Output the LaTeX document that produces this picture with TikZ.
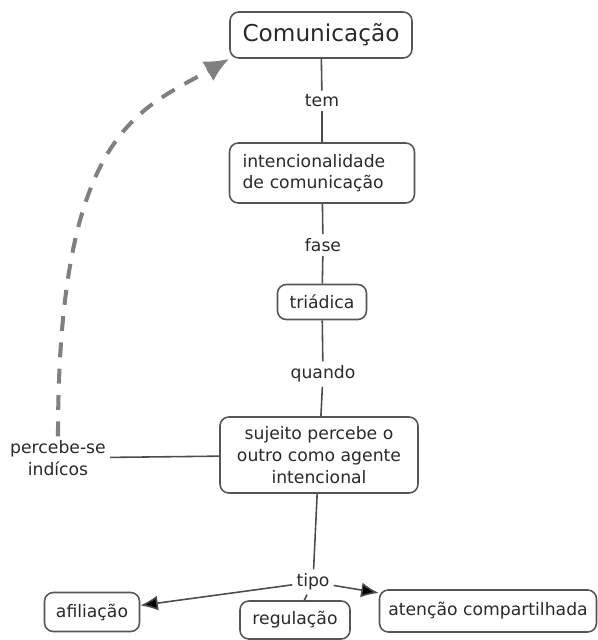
\documentclass[tikz,border=0pt]{standalone}
\usepackage{fontspec}
\setmainfont{DejaVu Sans}
\usetikzlibrary{arrows.meta}
\definecolor{boxgray}{HTML}{555555}
\definecolor{inkgray}{HTML}{2A2A2A}
\definecolor{dashgray}{HTML}{808080}

\begin{document}
\begin{tikzpicture}[x=0.02cm,y=-0.02cm,>={Latex[length=10pt,width=8.5pt]},
      thick,every node/.style={text=inkgray,font=\fontsize{9.8}{12.3}\selectfont},
      concept/.style={draw=boxgray,line width=0.9pt,rounded corners=5pt,
        inner sep=2pt,fill=white},
      link/.style={inner sep=2pt},
      conn/.style={draw=boxgray!90!black,line width=0.9pt}]
    \useasboundingbox (0,0) rectangle (598,640);
    \node[concept,minimum width=3.64cm,minimum height=0.92cm,
      font=\fontsize{13.2}{15}\selectfont] (com) at (321,35) {Comunicação};
    \node[link] (tem) at (322,101) {tem};
    \node[concept,inner xsep=7.4pt,text width=3.18cm,minimum height=1.2cm,align=left]
      (intc) at (322,173) {intencionalidade\\de comunicação};
    \node[link] (fase) at (323,245) {fase};
    \node[concept,minimum width=1.78cm,minimum height=0.7cm] (tri) at (322,302) {triádica};
    \node[link] (qdo) at (323,374) {quando};
    \node[concept,minimum width=3.96cm,minimum height=1.52cm,align=center] (suj) at (319,455)
      {sujeito percebe o\\outro como agente\\intencional};
    \node[link,align=center] (pct) at (58,458) {percebe-se\\indícos};
    \node[link] (tipo) at (313,582) {tipo};
    \node[concept,minimum width=1.9cm,minimum height=0.78cm] (afil) at (92,612) {afiliação};
    \node[concept,minimum width=2.2cm,minimum height=0.76cm] (reg) at (295,620) {regulação};
    \node[concept,minimum width=4.34cm,minimum height=0.84cm] (aten) at (488,611)
      {atenção compartilhada};
    \path[conn]
    (com) edge (tem)
    (tem) edge (intc)
    (intc) edge (fase)
    (fase) edge (tri)
    (tri) edge (qdo)
    (qdo) edge (suj)
    (suj) edge (pct)
    (suj) edge (tipo)
    (tipo) edge[->] (afil)
    (tipo) edge (reg)
    (tipo) edge[->] (aten)
    ;
    \draw[dashgray,line width=2.3pt,dash pattern=on 8.5pt off 6.5pt,
      -{Latex[length=14pt,width=13pt]}]
      (pct.north) .. controls (58,130) and (140,110) .. (com.south west);
  \end{tikzpicture}
\end{document}
